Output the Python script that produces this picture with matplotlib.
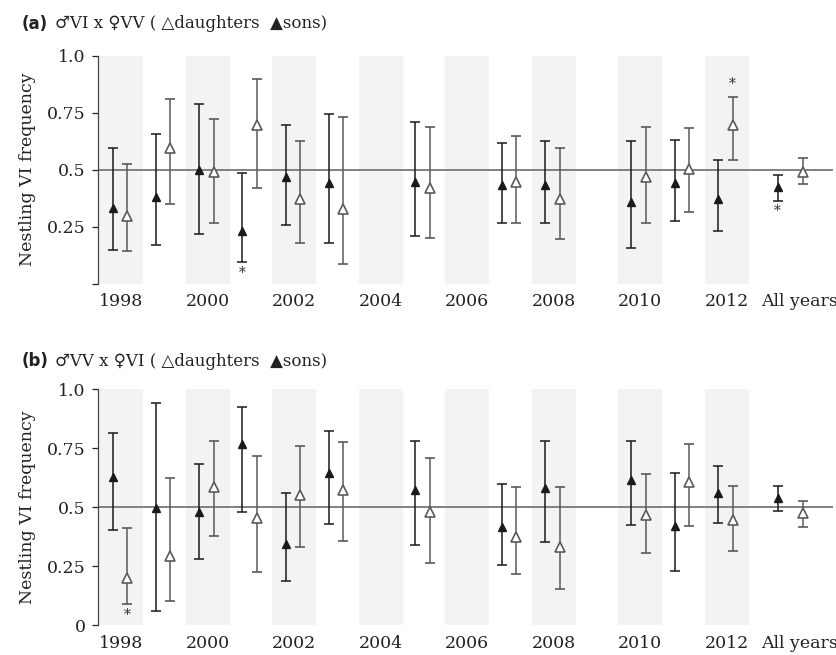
import numpy as np
import matplotlib.pyplot as plt

nan = np.nan

# Breeding seasons plus the pooled estimate
years = list(range(1998, 2013))
tick_years = [1998, 2000, 2002, 2004, 2006, 2008, 2010, 2012]
all_label = "All years"

# Panel (a): VI father x VV mother -- yearly proportions (last entry = all years)
a_sons    = [0.331, 0.382, 0.499, 0.232, 0.466, 0.442, nan, 0.445, nan, 0.431, 0.434, nan, 0.356, 0.443, 0.370, 0.426]
a_sons_lo = [0.146, 0.171, 0.219, 0.093, 0.257, 0.178, nan, 0.211, nan, 0.268, 0.264, nan, 0.157, 0.273, 0.229, 0.364]
a_sons_hi = [0.593, 0.655, 0.787, 0.484, 0.695, 0.746, nan, 0.708, nan, 0.615, 0.627, nan, 0.624, 0.630, 0.541, 0.477]
a_dau     = [0.297, 0.593, 0.488, 0.695, 0.370, 0.329, nan, 0.421, nan, 0.446, 0.370, nan, 0.469, 0.501, 0.698, 0.491]
a_dau_lo  = [0.141, 0.348, 0.267, 0.418, 0.179, 0.086, nan, 0.200, nan, 0.265, 0.195, nan, 0.268, 0.316, 0.542, 0.437]
a_dau_hi  = [0.526, 0.808, 0.723, 0.898, 0.624, 0.729, nan, 0.688, nan, 0.649, 0.595, nan, 0.688, 0.681, 0.819, 0.551]

# Panel (b): VV father x VI mother
b_sons    = [0.629, 0.498, 0.478, 0.768, 0.345, 0.647, nan, 0.573, nan, 0.414, 0.580, nan, 0.615, 0.421, 0.559, 0.539]
b_sons_lo = [0.403, 0.058, 0.280, 0.479, 0.185, 0.427, nan, 0.339, nan, 0.253, 0.354, nan, 0.423, 0.228, 0.433, 0.482]
b_sons_hi = [0.816, 0.943, 0.685, 0.925, 0.559, 0.822, nan, 0.782, nan, 0.600, 0.779, nan, 0.781, 0.644, 0.676, 0.591]
b_dau     = [0.198, 0.291, 0.587, 0.453, 0.550, 0.574, nan, 0.478, nan, 0.375, 0.332, nan, 0.465, 0.607, 0.446, 0.474]
b_dau_lo  = [0.088, 0.100, 0.376, 0.225, 0.331, 0.356, nan, 0.263, nan, 0.216, 0.151, nan, 0.307, 0.421, 0.313, 0.417]
b_dau_hi  = [0.413, 0.625, 0.781, 0.719, 0.761, 0.775, nan, 0.710, nan, 0.587, 0.584, nan, 0.639, 0.769, 0.590, 0.525]

# Significant deviations from 0.5: (series, group index, side)
a_sig = [("sons", 3, "below"), ("dau", 14, "above"), ("sons", 15, "below")]
b_sig = [("dau", 0, "below")]

plt.rcParams["font.family"] = ["DejaVu Serif", "DejaVu Sans"]

# x positions: one slot per year, the pooled group sits after 2012
ALL_X = 2013.5
year_x = np.array(years + [ALL_X], dtype=float)
sons_off = np.array([-0.20] * len(years) + [-0.32])
dau_off = np.array([0.14] * len(years) + [0.27])
sons_x = year_x + sons_off
dau_x = year_x + dau_off

SONS_C = "#1a1a1a"
DAU_C = "#5a5a5a"
BAND_C = "#f2f3f3"

fig = plt.figure(figsize=(8.37, 6.55), dpi=100)
ax_a = fig.add_axes([0.1174, 0.567, 0.8778, 0.348])
ax_b = fig.add_axes([0.1174, 0.0458, 0.8778, 0.3598])


def draw_panel(ax, sons, s_lo, s_hi, dau, d_lo, d_hi, sig, zero_label):
    sons, s_lo, s_hi = map(np.array, (sons, s_lo, s_hi))
    dau, d_lo, d_hi = map(np.array, (dau, d_lo, d_hi))
    for y in tick_years:
        ax.axvspan(y - 0.51, y + 0.51, color=BAND_C, lw=0, zorder=0)
    ax.axhline(0.5, color="#808080", lw=1.4, zorder=1)

    ax.errorbar(sons_x, sons, yerr=[sons - s_lo, s_hi - sons], fmt="^",
                ms=6, mfc=SONS_C, mec=SONS_C, ecolor=SONS_C, elinewidth=1.1,
                capsize=3.5, capthick=1.1, zorder=3)
    ax.errorbar(dau_x, dau, yerr=[dau - d_lo, d_hi - dau], fmt="^",
                ms=7.5, mfc="white", mec=DAU_C, mew=1.2, ecolor=DAU_C,
                elinewidth=1.1, capsize=3.5, capthick=1.1, zorder=3)

    for series, i, side in sig:
        if series == "sons":
            x, lo, hi = sons_x[i], s_lo[i], s_hi[i]
        else:
            x, lo, hi = dau_x[i], d_lo[i], d_hi[i]
        if side == "below":
            ax.text(x, lo - 0.045, "*", ha="center", va="center",
                    fontsize=10, color="#333333")
        else:
            ax.text(x, hi + 0.055, "*", ha="center", va="center",
                    fontsize=10, color="#333333")

    ax.set_xlim(1997.47, 2014.46)
    ax.set_ylim(0, 1.0)
    ax.set_yticks([0, 0.25, 0.5, 0.75, 1.0])
    ax.set_yticklabels([zero_label, "0.25", "0.5", "0.75", "1.0"])
    ax.set_xticks(tick_years + [2013.68])
    ax.set_xticklabels([str(y) for y in tick_years] + [all_label])
    ax.tick_params(axis="x", length=0, pad=7, labelsize=12.5, colors="#222222")
    ax.tick_params(axis="y", length=4, width=0.9, pad=5, labelsize=12.5,
                   colors="#222222", direction="out")
    for side in ("top", "right", "bottom"):
        ax.spines[side].set_visible(False)
    ax.spines["left"].set_color("#444444")
    ax.spines["left"].set_linewidth(0.9)
    ax.set_ylabel("Nestling VI frequency", fontsize=12.5, color="#222222",
                  labelpad=8)


draw_panel(ax_a, a_sons, a_sons_lo, a_sons_hi, a_dau, a_dau_lo, a_dau_hi, a_sig, "")
draw_panel(ax_b, b_sons, b_sons_lo, b_sons_hi, b_dau, b_dau_lo, b_dau_hi, b_sig, "0")


def panel_title(y, tag, text):
    t = fig.text(0.026, y, tag, fontsize=12, fontweight="bold",
                 family=["DejaVu Sans"], va="center", ha="left", color="#222222")
    fig.text(0.066, y, text, fontsize=12, va="center", ha="left", color="#222222",
             family=["DejaVu Serif", "DejaVu Sans"])


panel_title(1 - 24 / 655, "(a)", "\u2642VI x \u2640VV ( \u25b3daughters  \u25b2sons)")
panel_title(1 - 361 / 655, "(b)", "\u2642VV x \u2640VI ( \u25b3daughters  \u25b2sons)")

fig.savefig("out.png", dpi=100)
